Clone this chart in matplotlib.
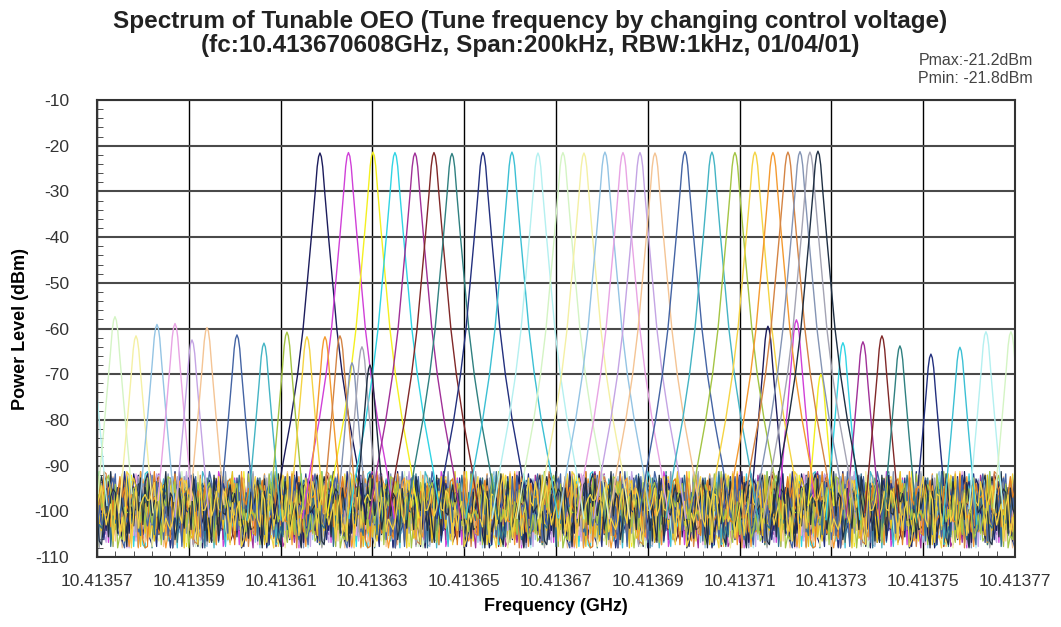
import numpy as np
import matplotlib
matplotlib.use("Agg")
import matplotlib.pyplot as plt
from matplotlib.ticker import MultipleLocator, AutoMinorLocator

plt.rcParams['font.family'] = ['Liberation Sans', 'DejaVu Sans']
plt.rcParams['axes.unicode_minus'] = False

# span of the analyzer (GHz)
F_START = 10.41357
F_STOP = 10.41377
N_POINTS = 401
X_TICKS = [10.41357, 10.41359, 10.41361, 10.41363, 10.41365, 10.41367,
           10.41369, 10.41371, 10.41373, 10.41375, 10.41377]
X_TICK_LABELS = ['10.41357', '10.41359', '10.41361', '10.41363', '10.41365', '10.41367',
                 '10.41369', '10.41371', '10.41373', '10.41375', '10.41377']

# main peaks (GHz), their levels (dBm) and colours
PEAK_FREQ = [10.41361858, 10.41362479, 10.41363013, 10.41363492, 10.41363928,
             10.41364342, 10.41364734, 10.41365409, 10.41366041, 10.41366608,
             10.41367152, 10.41367610, 10.41368067, 10.41368460, 10.41368830,
             10.41369157, 10.41369810, 10.41370398, 10.41370899, 10.41371335,
             10.41371727, 10.41372054, 10.41372316, 10.41372533, 10.41372708]
PEAK_DB = [-21.6, -21.5, -21.4, -21.5, -21.6, -21.5, -21.7, -21.5, -21.4, -21.6,
           -21.5, -21.6, -21.4, -21.5, -21.5, -21.6, -21.3, -21.4, -21.5, -21.4,
           -21.5, -21.4, -21.3, -21.4, -21.2]
TRACE_COLORS = ['#1c1c5c', '#d040d8', '#f4f020', '#30d4e4', '#a03098',
                '#802828', '#2f8080', '#23307e', '#3cc0d4', '#b4f0f0',
                '#d4f4c4', '#f4f0a4', '#94c4e4', '#e8a4e4', '#c4a4e4',
                '#f4c494', '#4464a4', '#44b4c4', '#a4c444', '#f4d444',
                '#f49a30', '#d48444', '#8494b4', '#a4a4b4', '#203044']
# colours that dominate the noise floor
NOISE_COLORS = ['#1c1c5c', '#f49a30', '#23307e', '#e8c020', '#2f6f8f', '#e08020',
                '#4464a4', '#a4c444', '#203044', '#f4d444']

# side modes about 97.6 kHz either side of each main peak (nan = off screen)
SIDE_SPACING = 0.0000976
SIDE_LEFT_DB = [np.nan] * 9 + [-60.0, -57.4, -61.6, -59.1, -58.9, -62.5, -59.8,
                               -61.4, -63.2, -60.8, -61.8, -61.8, -61.6, -67.5, -64.0, -68.0]
SIDE_RIGHT_DB = [-59.5, -58.1, -70.0, -63.1, -62.9, -61.6, -63.8, -65.6, -64.1,
                 -60.7, -60.7] + [np.nan] * 14

# shape of one RBW peak: offset from centre (kHz) vs drop below the top (dB)
PROFILE_KHZ = [0.0, 0.3, 0.6, 1.05, 1.9, 2.8, 3.7, 4.9, 6.4, 8.2, 10.0]
PROFILE_DROP = [0.0, 0.8, 3.0, 8.7, 18.7, 28.7, 38.7, 48.7, 58.7, 68.7, 80.0]

# noise floor samples (dBm)
NOISE_DB = [-98.2, -94.1, -101.5, -96.3, -104.8, -99.0, -92.7, -100.9, -97.4, -106.2,
            -95.5, -99.8, -102.6, -93.9, -98.7, -105.1, -96.9, -100.2, -91.8, -103.4,
            -97.8, -99.5, -107.3, -95.1, -101.1, -94.6, -98.9, -103.9, -96.0, -100.6,
            -92.4, -104.2, -99.3, -97.1, -102.0, -95.8, -108.0, -98.4, -93.5, -101.8,
            -96.6, -100.0, -105.6, -94.9, -99.1, -102.9, -97.6, -91.3, -103.0, -98.0,
            -95.3, -106.8, -100.4, -96.1, -99.7, -93.2, -104.5, -97.2, -101.3, -94.4,
            -98.6, -102.3, -95.9, -107.7, -99.9, -92.9, -100.8, -97.0, -103.7, -96.4,
            -98.3, -105.3, -94.2, -101.7, -99.4, -95.6, -102.7, -97.9, -93.7, -100.3,
            -106.5, -96.8, -99.2, -103.2, -94.8, -98.1, -101.0, -95.0, -104.0, -97.5,
            -92.1, -100.7, -98.8, -105.9, -96.2, -102.4, -99.6]


def peak_line(fc, top):
    off = np.array(PROFILE_KHZ) * 1e-6
    drop = np.array(PROFILE_DROP)
    # keep the profile down into the noise band (one point past -93 dBm)
    n = min(int(np.sum(top - drop > -93)) + 1, len(drop))
    off, drop = off[:n], drop[:n]
    xs = np.concatenate([fc - off[::-1], fc + off[1:]])
    ys = top - np.concatenate([drop[::-1], drop[1:]])
    return xs, ys


fig = plt.figure(figsize=(10.61, 6.27), dpi=100)
ax = fig.add_axes([0.0914, 0.1116, 0.8652, 0.7289])

freq = np.linspace(F_START, F_STOP, N_POINTS)
noise = np.array(NOISE_DB)
L = len(noise)

for i in range(len(PEAK_FREQ)):
    c = TRACE_COLORS[i]
    idx = (np.arange(N_POINTS) * (5 + 3 * i) + 11 * i) % L
    ax.plot(freq, noise[idx], color=c, lw=0.9)

# extra passes in the darker / saturated colours that dominate the floor
for k, c in enumerate(NOISE_COLORS):
    idx = (np.arange(N_POINTS) * (7 + 4 * k) + 29 * k + 3) % L
    ax.plot(freq, noise[idx], color=c, lw=0.9)

for i in range(len(PEAK_FREQ)):
    c = TRACE_COLORS[i]
    x, y = peak_line(PEAK_FREQ[i], PEAK_DB[i])
    ax.plot(x, y, color=c, lw=1.0)
    if not np.isnan(SIDE_LEFT_DB[i]):
        x, y = peak_line(PEAK_FREQ[i] - SIDE_SPACING, SIDE_LEFT_DB[i])
        ax.plot(x, y, color=c, lw=1.0)
    if not np.isnan(SIDE_RIGHT_DB[i]):
        x, y = peak_line(PEAK_FREQ[i] + SIDE_SPACING, SIDE_RIGHT_DB[i])
        ax.plot(x, y, color=c, lw=1.0)

ax.set_xlim(F_START, F_STOP)
ax.set_ylim(-110, -10)
ax.set_xticks(X_TICKS)
ax.set_xticklabels(X_TICK_LABELS)
ax.yaxis.set_major_locator(MultipleLocator(10))
ax.xaxis.set_minor_locator(AutoMinorLocator(5))
ax.yaxis.set_minor_locator(AutoMinorLocator(5))

ax.grid(True, axis='x', color='black', lw=1.0)
ax.grid(True, axis='y', color='#4a4a4a', lw=1.5)
ax.set_axisbelow(True)
for s in ax.spines.values():
    s.set_color('#333333')
    s.set_linewidth(1.5)

ax.tick_params(which='major', length=0, labelsize=12.5, labelcolor='#333333')
ax.tick_params(axis='x', which='major', pad=12)
ax.tick_params(axis='y', which='major', pad=20)
ax.tick_params(which='minor', direction='in', length=4, color='#333333',
               bottom=True, left=True)

ax.set_xlabel('Frequency (GHz)', fontsize=13, fontweight='bold', labelpad=7)
ax.set_ylabel('Power Level (dBm)', fontsize=13, fontweight='bold', labelpad=4)

fig.text(0.4995, 0.966, 'Spectrum of Tunable OEO (Tune frequency by changing control voltage)',
         ha='center', va='center', fontsize=17.5, fontweight='bold', color='#222222')
fig.text(0.4995, 0.928, '(fc:10.413670608GHz, Span:200kHz, RBW:1kHz, 01/04/01)',
         ha='center', va='center', fontsize=17.5, fontweight='bold', color='#222222')
fig.text(0.9736, 0.904, 'Pmax:-21.2dBm', ha='right', va='center', fontsize=11.5, color='#444444')
fig.text(0.9736, 0.875, 'Pmin: -21.8dBm', ha='right', va='center', fontsize=11.5, color='#444444')

fig.savefig('out.png', dpi=100)
